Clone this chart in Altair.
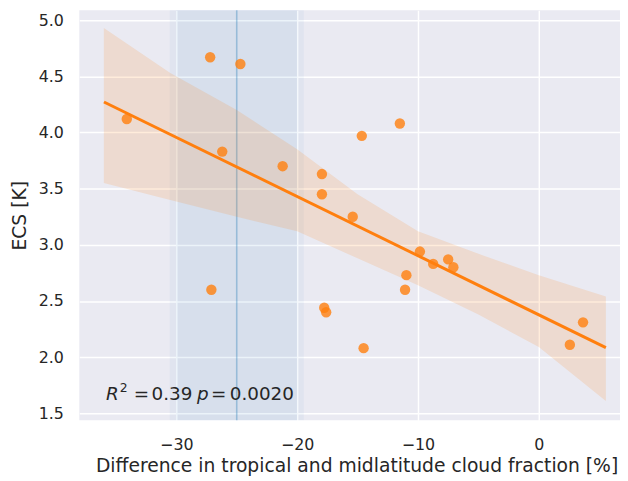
import altair as alt
import pandas as pd

# Model values
cloud_diff = [-34.1, -27.2, -24.7, -26.2, -21.2, -17.95, -17.95, -14.65, -11.5, -15.4,
              -27.1, -9.84, -8.74, -7.5, -7.07, -10.96, -11.07, -17.76, -17.6, -14.5,
              2.57, 3.66]
ecs = [4.12, 4.67, 4.61, 3.83, 3.70, 3.63, 3.45, 3.97, 4.08, 3.25,
       2.60, 2.94, 2.83, 2.87, 2.80, 2.73, 2.60, 2.44, 2.40, 2.08,
       2.11, 2.31]

# Confidence band of the regression
ci_x = [-36.0, -30.5, -25.0, -20.0, -15.0, -10.0, -5.0, 0.0, 5.55]
ci_upper = [4.93, 4.53, 4.20, 3.85, 3.45, 3.12, 2.92, 2.73, 2.54]
ci_lower = [3.55, 3.40, 3.25, 3.12, 2.88, 2.64, 2.38, 2.09, 1.61]

# Shaded observational range and its central value
span_lo = [-30.55, -30.0]
span_hi = [-19.45, -20.0]
obs_center = [-25.0]

reg_extent = [-35.99, 5.55]
x_domain = [-38.03, 6.72]
y_domain = [1.438, 5.088]
x_ticks = [-30, -20, -10, 0]
y_ticks = [1.5, 2.0, 2.5, 3.0, 3.5, 4.0, 4.5, 5.0]

FONT = "DejaVu Sans"
TXT = "#262626"

pts = pd.DataFrame({"x": cloud_diff, "y": ecs})
ci = pd.DataFrame({"x": ci_x, "hi": ci_upper, "lo": ci_lower})
spans = pd.DataFrame({"lo": span_lo, "hi": span_hi})
vline = pd.DataFrame({"x": obs_center})

xs = alt.Scale(domain=x_domain, nice=False, zero=False)
ys = alt.Scale(domain=y_domain, nice=False, zero=False)

xax = alt.Axis(values=x_ticks, title="Difference in tropical and midlatitude cloud fraction [%]",
               labelExpr="replace(format(datum.value, 'd'), '-', '\u2212')",
               titleX=280, titleY=52, titleBaseline="alphabetic", titleAlign="center")
yax = alt.Axis(values=y_ticks, title="ECS [K]", format=".1f")

band = alt.Chart(spans).mark_rect(color="#1f77b4", opacity=0.045).encode(
    x=alt.X("lo:Q", scale=xs, axis=xax),
    x2="hi:Q",
)

vl = alt.Chart(vline).mark_rule(color="#1f77b4", opacity=0.35, strokeWidth=1.6).encode(
    x=alt.X("x:Q", scale=xs),
)

ci_area = alt.Chart(ci).mark_area(color="#ff7f0e", opacity=0.15).encode(
    x=alt.X("x:Q", scale=xs),
    y=alt.Y("lo:Q", scale=ys, axis=yax),
    y2="hi:Q",
)

scatter = alt.Chart(pts).mark_circle(color="#ff7f0e", opacity=0.8, size=110).encode(
    x=alt.X("x:Q", scale=xs),
    y=alt.Y("y:Q", scale=ys),
)

reg = alt.Chart(pts).transform_regression("x", "y", extent=reg_extent).mark_line(
    color="#ff7f0e", strokeWidth=3
).encode(
    x=alt.X("x:Q", scale=xs),
    y=alt.Y("y:Q", scale=ys),
)

# annotation pieces
ann_x = -35.82
ann_y = 1.617
ann_pieces = [
    ("R", 0, 0, 18.5, "italic"),
    ("2", 14, -8, 12.5, "normal"),
    ("=", 28, 0, 18.5, "normal"),
    ("0.39", 46, 0, 18.5, "normal"),
    ("p", 92, 0, 18.5, "italic"),
    ("=", 106, 0, 18.5, "normal"),
    ("0.0020", 125, 0, 18.5, "normal"),
]
ann_df = pd.DataFrame({"x": [ann_x], "y": [ann_y]})
ann_layers = []
for txt, dx, dy, fs, st in ann_pieces:
    ann_layers.append(
        alt.Chart(ann_df).mark_text(
            text=txt, align="left", baseline="alphabetic", dx=dx, dy=dy,
            fontSize=fs, fontStyle=st, font=FONT, color=TXT
        ).encode(x=alt.X("x:Q", scale=xs), y=alt.Y("y:Q", scale=ys))
    )

chart = alt.layer(band, vl, ci_area, scatter, reg, *ann_layers).properties(
    width=546, height=414,
    autosize=alt.AutoSizeParams(type="none"),
    padding={"left": 72, "top": 0, "right": 0, "bottom": 58},
).configure_view(
    fill="#EAEAF2", strokeWidth=0
).configure_axis(
    grid=True, gridColor="white", gridWidth=1.5, domain=False, ticks=False,
    labelFont=FONT, labelFontSize=16, labelColor=TXT,
    titleFont=FONT, titleFontSize=18.9, titleColor=TXT, titleFontWeight="normal",
).configure_axisX(
    labelPadding=17
).configure_axisY(
    labelPadding=16, titlePadding=9
)

chart.save("out.html", embed_options={"renderer": "svg", "actions": False})
